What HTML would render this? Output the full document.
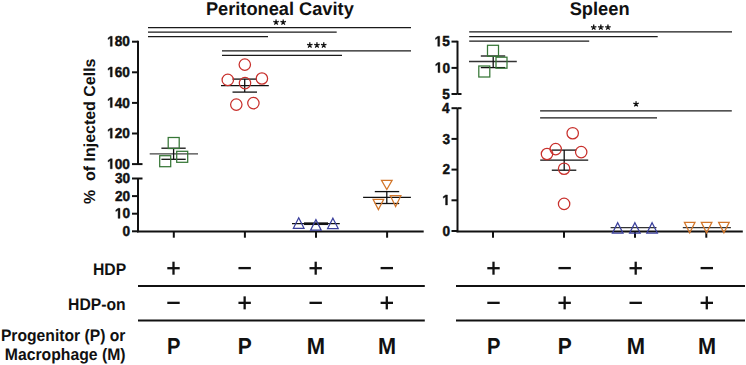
<!DOCTYPE html><html><head><meta charset="utf-8"><style>html,body{margin:0;padding:0;background:#fff;width:746px;height:365px;overflow:hidden;}svg{display:block;}text{font-family:"Liberation Sans",sans-serif;fill:#111;text-rendering:geometricPrecision;}</style></head><body>
<svg width="746" height="365" viewBox="0 0 746 365">
<text x="205.92" y="14.70" font-size="18.4" font-weight="bold" textLength="147.87" lengthAdjust="spacingAndGlyphs" xml:space="preserve" >Peritoneal Cavity</text>
<text x="569.65" y="14.70" font-size="18.4" font-weight="bold" textLength="59.92" lengthAdjust="spacingAndGlyphs" xml:space="preserve" >Spleen</text>
<line x1="138" y1="40.8" x2="138" y2="164.1" stroke="#111" stroke-width="2.0"/>
<line x1="138" y1="178.5" x2="138" y2="232.3" stroke="#111" stroke-width="2.0"/>
<line x1="132" y1="41.7" x2="138" y2="41.7" stroke="#111" stroke-width="2.0"/>
<path transform="translate(107.15,46.35) scale(0.00666,-0.00708)" d="M478 0L478 1170L140 959L140 1180L493 1409L759 1409L759 0Z" fill="#111" stroke="#111" stroke-width="63.6"/>
<text x="107.15" y="46.35" font-size="14.5" font-weight="bold" textLength="22.74" lengthAdjust="spacingAndGlyphs" xml:space="preserve" stroke="#111" stroke-width="0.45" > 80</text>
<line x1="132" y1="72.3" x2="138" y2="72.3" stroke="#111" stroke-width="2.0"/>
<path transform="translate(107.15,76.95) scale(0.00666,-0.00708)" d="M478 0L478 1170L140 959L140 1180L493 1409L759 1409L759 0Z" fill="#111" stroke="#111" stroke-width="63.6"/>
<text x="107.15" y="76.95" font-size="14.5" font-weight="bold" textLength="22.74" lengthAdjust="spacingAndGlyphs" xml:space="preserve" stroke="#111" stroke-width="0.45" > 60</text>
<line x1="132" y1="102.9" x2="138" y2="102.9" stroke="#111" stroke-width="2.0"/>
<path transform="translate(107.15,107.55) scale(0.00666,-0.00708)" d="M478 0L478 1170L140 959L140 1180L493 1409L759 1409L759 0Z" fill="#111" stroke="#111" stroke-width="63.6"/>
<text x="107.15" y="107.55" font-size="14.5" font-weight="bold" textLength="22.74" lengthAdjust="spacingAndGlyphs" xml:space="preserve" stroke="#111" stroke-width="0.45" > 40</text>
<line x1="132" y1="133.5" x2="138" y2="133.5" stroke="#111" stroke-width="2.0"/>
<path transform="translate(107.15,138.15) scale(0.00666,-0.00708)" d="M478 0L478 1170L140 959L140 1180L493 1409L759 1409L759 0Z" fill="#111" stroke="#111" stroke-width="63.6"/>
<text x="107.15" y="138.15" font-size="14.5" font-weight="bold" textLength="22.74" lengthAdjust="spacingAndGlyphs" xml:space="preserve" stroke="#111" stroke-width="0.45" > 20</text>
<line x1="132" y1="164.1" x2="138" y2="164.1" stroke="#111" stroke-width="2.0"/>
<path transform="translate(107.15,168.75) scale(0.00666,-0.00708)" d="M478 0L478 1170L140 959L140 1180L493 1409L759 1409L759 0Z" fill="#111" stroke="#111" stroke-width="63.6"/>
<text x="107.15" y="168.75" font-size="14.5" font-weight="bold" textLength="22.74" lengthAdjust="spacingAndGlyphs" xml:space="preserve" stroke="#111" stroke-width="0.45" > 00</text>
<line x1="138" y1="164.1" x2="142.5" y2="164.1" stroke="#111" stroke-width="2.0"/>
<line x1="132" y1="178.5" x2="138" y2="178.5" stroke="#111" stroke-width="2.0"/>
<text x="114.92" y="183.15" font-size="14.5" font-weight="bold" textLength="15.16" lengthAdjust="spacingAndGlyphs" xml:space="preserve" stroke="#111" stroke-width="0.45" >30</text>
<line x1="132" y1="196.1" x2="138" y2="196.1" stroke="#111" stroke-width="2.0"/>
<text x="114.92" y="200.75" font-size="14.5" font-weight="bold" textLength="15.16" lengthAdjust="spacingAndGlyphs" xml:space="preserve" stroke="#111" stroke-width="0.45" >20</text>
<line x1="132" y1="213.7" x2="138" y2="213.7" stroke="#111" stroke-width="2.0"/>
<path transform="translate(114.92,218.35) scale(0.00666,-0.00708)" d="M478 0L478 1170L140 959L140 1180L493 1409L759 1409L759 0Z" fill="#111" stroke="#111" stroke-width="63.6"/>
<text x="114.92" y="218.35" font-size="14.5" font-weight="bold" textLength="15.16" lengthAdjust="spacingAndGlyphs" xml:space="preserve" stroke="#111" stroke-width="0.45" > 0</text>
<line x1="132" y1="231.3" x2="138" y2="231.3" stroke="#111" stroke-width="2.0"/>
<text x="122.48" y="235.95" font-size="14.5" font-weight="bold" textLength="7.58" lengthAdjust="spacingAndGlyphs" xml:space="preserve" stroke="#111" stroke-width="0.45" >0</text>
<line x1="138" y1="178.5" x2="142.5" y2="178.5" stroke="#111" stroke-width="2.0"/>
<line x1="137" y1="231.5" x2="423.7" y2="231.5" stroke="#111" stroke-width="2.0"/>
<line x1="173.8" y1="231.3" x2="173.8" y2="237.7" stroke="#111" stroke-width="2.0"/>
<line x1="244.9" y1="231.3" x2="244.9" y2="237.7" stroke="#111" stroke-width="2.0"/>
<line x1="316.0" y1="231.3" x2="316.0" y2="237.7" stroke="#111" stroke-width="2.0"/>
<line x1="387.1" y1="231.3" x2="387.1" y2="237.7" stroke="#111" stroke-width="2.0"/>
<text x="-204.10" y="0.00" font-size="16" font-weight="bold" textLength="145.59" lengthAdjust="spacingAndGlyphs" xml:space="preserve" transform="translate(95.3,0) rotate(-90)">%  of Injected Cells</text>
<line x1="457.5" y1="40.8" x2="457.5" y2="94" stroke="#111" stroke-width="2.0"/>
<line x1="457.5" y1="108.2" x2="457.5" y2="232.2" stroke="#111" stroke-width="2.0"/>
<line x1="451.5" y1="41.6" x2="457.5" y2="41.6" stroke="#111" stroke-width="2.0"/>
<path transform="translate(434.61,46.25) scale(0.00666,-0.00708)" d="M478 0L478 1170L140 959L140 1180L493 1409L759 1409L759 0Z" fill="#111" stroke="#111" stroke-width="63.6"/>
<text x="434.61" y="46.25" font-size="14.5" font-weight="bold" textLength="15.16" lengthAdjust="spacingAndGlyphs" xml:space="preserve" stroke="#111" stroke-width="0.45" > 5</text>
<line x1="451.5" y1="67.9" x2="457.5" y2="67.9" stroke="#111" stroke-width="2.0"/>
<path transform="translate(434.82,72.55) scale(0.00666,-0.00708)" d="M478 0L478 1170L140 959L140 1180L493 1409L759 1409L759 0Z" fill="#111" stroke="#111" stroke-width="63.6"/>
<text x="434.82" y="72.55" font-size="14.5" font-weight="bold" textLength="15.16" lengthAdjust="spacingAndGlyphs" xml:space="preserve" stroke="#111" stroke-width="0.45" > 0</text>
<line x1="451.5" y1="94.0" x2="457.5" y2="94.0" stroke="#111" stroke-width="2.0"/>
<text x="442.18" y="98.65" font-size="14.5" font-weight="bold" textLength="7.58" lengthAdjust="spacingAndGlyphs" xml:space="preserve" stroke="#111" stroke-width="0.45" >5</text>
<line x1="457.5" y1="94" x2="461.5" y2="94" stroke="#111" stroke-width="2.0"/>
<line x1="451.5" y1="108.2" x2="457.5" y2="108.2" stroke="#111" stroke-width="2.0"/>
<text x="442.10" y="112.85" font-size="14.5" font-weight="bold" textLength="7.58" lengthAdjust="spacingAndGlyphs" xml:space="preserve" stroke="#111" stroke-width="0.45" >4</text>
<line x1="451.5" y1="138.9" x2="457.5" y2="138.9" stroke="#111" stroke-width="2.0"/>
<text x="442.51" y="143.55" font-size="14.5" font-weight="bold" textLength="7.58" lengthAdjust="spacingAndGlyphs" xml:space="preserve" stroke="#111" stroke-width="0.45" >3</text>
<line x1="451.5" y1="169.6" x2="457.5" y2="169.6" stroke="#111" stroke-width="2.0"/>
<text x="442.58" y="174.25" font-size="14.5" font-weight="bold" textLength="7.58" lengthAdjust="spacingAndGlyphs" xml:space="preserve" stroke="#111" stroke-width="0.45" >2</text>
<line x1="451.5" y1="200.3" x2="457.5" y2="200.3" stroke="#111" stroke-width="2.0"/>
<path transform="translate(442.38,204.95) scale(0.00666,-0.00708)" d="M478 0L478 1170L140 959L140 1180L493 1409L759 1409L759 0Z" fill="#111" stroke="#111" stroke-width="63.6"/>
<text x="442.38" y="204.95" font-size="14.5" font-weight="bold" textLength="7.58" lengthAdjust="spacingAndGlyphs" xml:space="preserve" stroke="#111" stroke-width="0.45" > </text>
<line x1="451.5" y1="231.0" x2="457.5" y2="231.0" stroke="#111" stroke-width="2.0"/>
<text x="442.58" y="235.65" font-size="14.5" font-weight="bold" textLength="7.58" lengthAdjust="spacingAndGlyphs" xml:space="preserve" stroke="#111" stroke-width="0.45" >0</text>
<line x1="457.5" y1="108.2" x2="461.5" y2="108.2" stroke="#111" stroke-width="2.0"/>
<line x1="456.5" y1="231.5" x2="742.8" y2="231.5" stroke="#111" stroke-width="2.0"/>
<line x1="493.0" y1="231.2" x2="493.0" y2="237.7" stroke="#111" stroke-width="2.0"/>
<line x1="564.0" y1="231.2" x2="564.0" y2="237.7" stroke="#111" stroke-width="2.0"/>
<line x1="635.0" y1="231.2" x2="635.0" y2="237.7" stroke="#111" stroke-width="2.0"/>
<line x1="706.3" y1="231.2" x2="706.3" y2="237.7" stroke="#111" stroke-width="2.0"/>
<line x1="148" y1="27.5" x2="411" y2="27.5" stroke="#1a1a1a" stroke-width="1.25"/>
<line x1="148" y1="32" x2="336.7" y2="32" stroke="#1a1a1a" stroke-width="1.25"/>
<line x1="148" y1="36.5" x2="268" y2="36.5" stroke="#1a1a1a" stroke-width="1.25"/>
<line x1="222" y1="50.8" x2="411" y2="50.8" stroke="#1a1a1a" stroke-width="1.25"/>
<line x1="222" y1="55.3" x2="342" y2="55.3" stroke="#1a1a1a" stroke-width="1.25"/>
<line x1="469.2" y1="31.8" x2="732" y2="31.8" stroke="#1a1a1a" stroke-width="1.25"/>
<line x1="469.2" y1="36.5" x2="657.7" y2="36.5" stroke="#1a1a1a" stroke-width="1.25"/>
<line x1="469.2" y1="41" x2="589.2" y2="41" stroke="#1a1a1a" stroke-width="1.25"/>
<line x1="540.1" y1="110.9" x2="731.8" y2="110.9" stroke="#1a1a1a" stroke-width="1.25"/>
<line x1="540.1" y1="117.8" x2="657" y2="117.8" stroke="#1a1a1a" stroke-width="1.25"/>
<path d="M276.05 22.30L276.05 19.45M276.05 22.30L278.76 21.42M276.05 22.30L277.73 24.61M276.05 22.30L274.37 24.61M276.05 22.30L273.34 21.42" stroke="#111" stroke-width="1.3" stroke-linecap="butt" fill="none"/>
<path d="M283.20 22.30L283.20 19.45M283.20 22.30L285.91 21.42M283.20 22.30L284.88 24.61M283.20 22.30L281.52 24.61M283.20 22.30L280.49 21.42" stroke="#111" stroke-width="1.3" stroke-linecap="butt" fill="none"/>
<path d="M309.80 45.20L309.80 42.35M309.80 45.20L312.51 44.32M309.80 45.20L311.48 47.51M309.80 45.20L308.12 47.51M309.80 45.20L307.09 44.32" stroke="#111" stroke-width="1.3" stroke-linecap="butt" fill="none"/>
<path d="M316.95 45.20L316.95 42.35M316.95 45.20L319.66 44.32M316.95 45.20L318.63 47.51M316.95 45.20L315.27 47.51M316.95 45.20L314.24 44.32" stroke="#111" stroke-width="1.3" stroke-linecap="butt" fill="none"/>
<path d="M323.75 45.20L323.75 42.35M323.75 45.20L326.46 44.32M323.75 45.20L325.43 47.51M323.75 45.20L322.07 47.51M323.75 45.20L321.04 44.32" stroke="#111" stroke-width="1.3" stroke-linecap="butt" fill="none"/>
<path d="M593.70 27.40L593.70 24.55M593.70 27.40L596.41 26.52M593.70 27.40L595.38 29.71M593.70 27.40L592.02 29.71M593.70 27.40L590.99 26.52" stroke="#111" stroke-width="1.3" stroke-linecap="butt" fill="none"/>
<path d="M600.85 27.40L600.85 24.55M600.85 27.40L603.56 26.52M600.85 27.40L602.53 29.71M600.85 27.40L599.17 29.71M600.85 27.40L598.14 26.52" stroke="#111" stroke-width="1.3" stroke-linecap="butt" fill="none"/>
<path d="M607.95 27.40L607.95 24.55M607.95 27.40L610.66 26.52M607.95 27.40L609.63 29.71M607.95 27.40L606.27 29.71M607.95 27.40L605.24 26.52" stroke="#111" stroke-width="1.3" stroke-linecap="butt" fill="none"/>
<path d="M636.05 104.10L636.05 101.25M636.05 104.10L638.76 103.22M636.05 104.10L637.73 106.41M636.05 104.10L634.37 106.41M636.05 104.10L633.34 103.22" stroke="#111" stroke-width="1.3" stroke-linecap="butt" fill="none"/>
<line x1="149.7" y1="153.8" x2="198" y2="153.8" stroke="#444" stroke-width="1.3"/>
<line x1="161.4" y1="148.2" x2="185.7" y2="148.2" stroke="#111" stroke-width="1.3"/>
<line x1="161.4" y1="159.3" x2="185.7" y2="159.3" stroke="#111" stroke-width="1.3"/>
<line x1="173.6" y1="148.2" x2="173.6" y2="159.3" stroke="#111" stroke-width="1.3"/>
<rect x="168.20" y="137.50" width="11.0" height="11.0" fill="none" stroke="#367636" stroke-width="1.25"/>
<rect x="176.70" y="151.30" width="11.0" height="11.0" fill="none" stroke="#367636" stroke-width="1.25"/>
<rect x="159.70" y="155.70" width="11.0" height="11.0" fill="none" stroke="#367636" stroke-width="1.25"/>
<line x1="221" y1="85.6" x2="268.8" y2="85.6" stroke="#111" stroke-width="1.3"/>
<line x1="232.5" y1="79.1" x2="257" y2="79.1" stroke="#111" stroke-width="1.3"/>
<line x1="232.5" y1="92.1" x2="257" y2="92.1" stroke="#111" stroke-width="1.3"/>
<line x1="244.7" y1="79.1" x2="244.7" y2="92.1" stroke="#111" stroke-width="1.3"/>
<circle cx="244.8" cy="64.6" r="5.7" fill="none" stroke="#c8302c" stroke-width="1.25"/>
<circle cx="227.8" cy="79.9" r="5.7" fill="none" stroke="#c8302c" stroke-width="1.25"/>
<circle cx="261.9" cy="78.5" r="5.7" fill="none" stroke="#c8302c" stroke-width="1.25"/>
<circle cx="245" cy="83.1" r="5.7" fill="none" stroke="#c8302c" stroke-width="1.25"/>
<circle cx="236.3" cy="104.6" r="5.7" fill="none" stroke="#c8302c" stroke-width="1.25"/>
<circle cx="253.4" cy="103.1" r="5.7" fill="none" stroke="#c8302c" stroke-width="1.25"/>
<line x1="292" y1="223.6" x2="339.8" y2="223.6" stroke="#111" stroke-width="1.3"/>
<line x1="304" y1="223.0" x2="328" y2="223.0" stroke="#111" stroke-width="1.3"/>
<line x1="304" y1="224.4" x2="328" y2="224.4" stroke="#111" stroke-width="1.3"/>
<path d="M298.70 217.80 L304.00 228.30 L293.40 228.30 Z" fill="none" stroke="#3a3f9c" stroke-width="1.25" stroke-linejoin="miter"/>
<path d="M315.90 219.60 L321.20 230.10 L310.60 230.10 Z" fill="none" stroke="#3a3f9c" stroke-width="1.25" stroke-linejoin="miter"/>
<path d="M332.90 218.20 L338.20 228.50 L327.60 228.50 Z" fill="none" stroke="#3a3f9c" stroke-width="1.25" stroke-linejoin="miter"/>
<line x1="363.1" y1="197.4" x2="410.9" y2="197.4" stroke="#111" stroke-width="1.3"/>
<line x1="374.8" y1="191.6" x2="399.2" y2="191.6" stroke="#111" stroke-width="1.3"/>
<line x1="374.8" y1="203.5" x2="399.2" y2="203.5" stroke="#111" stroke-width="1.3"/>
<line x1="386.8" y1="191.6" x2="386.8" y2="203.5" stroke="#111" stroke-width="1.3"/>
<path d="M381.50 180.40 L392.10 180.40 L386.80 189.60 Z" fill="none" stroke="#d2762a" stroke-width="1.25" stroke-linejoin="miter"/>
<path d="M373.10 199.40 L383.70 199.40 L378.40 209.60 Z" fill="none" stroke="#d2762a" stroke-width="1.25" stroke-linejoin="miter"/>
<path d="M390.30 195.70 L400.90 195.70 L395.60 206.60 Z" fill="none" stroke="#d2762a" stroke-width="1.25" stroke-linejoin="miter"/>
<line x1="469" y1="61.5" x2="516.8" y2="61.5" stroke="#333" stroke-width="1.3"/>
<line x1="480.8" y1="56" x2="505.2" y2="56" stroke="#111" stroke-width="1.3"/>
<line x1="480.8" y1="67.6" x2="505.2" y2="67.6" stroke="#111" stroke-width="1.3"/>
<line x1="493.2" y1="56" x2="493.2" y2="67.6" stroke="#111" stroke-width="1.3"/>
<rect x="487.50" y="45.30" width="11.0" height="11.0" fill="none" stroke="#367636" stroke-width="1.25"/>
<rect x="496.00" y="57.20" width="11.0" height="11.0" fill="none" stroke="#367636" stroke-width="1.25"/>
<rect x="478.80" y="66.00" width="11.0" height="11.0" fill="none" stroke="#367636" stroke-width="1.25"/>
<line x1="540.2" y1="160.1" x2="588.2" y2="160.1" stroke="#111" stroke-width="1.3"/>
<line x1="551.8" y1="150.1" x2="576.3" y2="150.1" stroke="#111" stroke-width="1.3"/>
<line x1="551.8" y1="170.2" x2="576.3" y2="170.2" stroke="#111" stroke-width="1.3"/>
<line x1="564.2" y1="150.1" x2="564.2" y2="170.2" stroke="#111" stroke-width="1.3"/>
<circle cx="572.7" cy="133.2" r="5.7" fill="none" stroke="#c8302c" stroke-width="1.25"/>
<circle cx="555.7" cy="149.1" r="5.7" fill="none" stroke="#c8302c" stroke-width="1.25"/>
<circle cx="547" cy="154" r="5.7" fill="none" stroke="#c8302c" stroke-width="1.25"/>
<circle cx="581.2" cy="152.1" r="5.7" fill="none" stroke="#c8302c" stroke-width="1.25"/>
<circle cx="564.1" cy="168.7" r="5.7" fill="none" stroke="#c8302c" stroke-width="1.25"/>
<circle cx="564.1" cy="203.9" r="5.7" fill="none" stroke="#c8302c" stroke-width="1.25"/>
<line x1="610.6" y1="227.7" x2="656.5" y2="227.7" stroke="#333" stroke-width="1.3"/>
<path d="M617.70 222.70 L623.00 233.20 L612.40 233.20 Z" fill="none" stroke="#3a3f9c" stroke-width="1.25" stroke-linejoin="miter"/>
<path d="M634.90 222.70 L640.20 233.20 L629.60 233.20 Z" fill="none" stroke="#3a3f9c" stroke-width="1.25" stroke-linejoin="miter"/>
<path d="M652.10 222.70 L657.40 233.20 L646.80 233.20 Z" fill="none" stroke="#3a3f9c" stroke-width="1.25" stroke-linejoin="miter"/>
<line x1="682.8" y1="227.7" x2="730.9" y2="227.7" stroke="#333" stroke-width="1.3"/>
<path d="M684.40 222.40 L695.00 222.40 L689.70 232.90 Z" fill="none" stroke="#d2762a" stroke-width="1.25" stroke-linejoin="miter"/>
<path d="M701.30 222.40 L711.90 222.40 L706.60 232.90 Z" fill="none" stroke="#d2762a" stroke-width="1.25" stroke-linejoin="miter"/>
<path d="M718.60 222.40 L729.20 222.40 L723.90 232.90 Z" fill="none" stroke="#d2762a" stroke-width="1.25" stroke-linejoin="miter"/>
<line x1="138" y1="286" x2="424.8" y2="286" stroke="#111" stroke-width="2.0"/>
<line x1="138" y1="320.5" x2="424.8" y2="320.5" stroke="#111" stroke-width="2.0"/>
<line x1="456" y1="286" x2="745" y2="286" stroke="#111" stroke-width="2.0"/>
<line x1="456" y1="320.5" x2="745" y2="320.5" stroke="#111" stroke-width="2.0"/>
<line x1="167.3" y1="268.2" x2="179.7" y2="268.2" stroke="#111" stroke-width="2.3"/>
<line x1="173.5" y1="261.7" x2="173.5" y2="274.7" stroke="#111" stroke-width="2.3"/>
<line x1="167.3" y1="302.85" x2="179.7" y2="302.85" stroke="#111" stroke-width="2.3"/>
<line x1="238.45000000000002" y1="268.1" x2="250.85" y2="268.1" stroke="#111" stroke-width="2.3"/>
<line x1="238.45000000000002" y1="302.85" x2="250.85" y2="302.85" stroke="#111" stroke-width="2.3"/>
<line x1="244.65" y1="296.35" x2="244.65" y2="309.35" stroke="#111" stroke-width="2.3"/>
<line x1="309.5" y1="268.2" x2="321.9" y2="268.2" stroke="#111" stroke-width="2.3"/>
<line x1="315.7" y1="261.7" x2="315.7" y2="274.7" stroke="#111" stroke-width="2.3"/>
<line x1="309.5" y1="302.85" x2="321.9" y2="302.85" stroke="#111" stroke-width="2.3"/>
<line x1="380.6" y1="268.1" x2="393.0" y2="268.1" stroke="#111" stroke-width="2.3"/>
<line x1="380.6" y1="302.85" x2="393.0" y2="302.85" stroke="#111" stroke-width="2.3"/>
<line x1="386.8" y1="296.35" x2="386.8" y2="309.35" stroke="#111" stroke-width="2.3"/>
<line x1="487.3" y1="268.2" x2="499.7" y2="268.2" stroke="#111" stroke-width="2.3"/>
<line x1="493.5" y1="261.7" x2="493.5" y2="274.7" stroke="#111" stroke-width="2.3"/>
<line x1="487.3" y1="302.85" x2="499.7" y2="302.85" stroke="#111" stroke-width="2.3"/>
<line x1="558.4499999999999" y1="268.1" x2="570.85" y2="268.1" stroke="#111" stroke-width="2.3"/>
<line x1="558.4499999999999" y1="302.85" x2="570.85" y2="302.85" stroke="#111" stroke-width="2.3"/>
<line x1="564.65" y1="296.35" x2="564.65" y2="309.35" stroke="#111" stroke-width="2.3"/>
<line x1="629.5" y1="268.2" x2="641.9000000000001" y2="268.2" stroke="#111" stroke-width="2.3"/>
<line x1="635.7" y1="261.7" x2="635.7" y2="274.7" stroke="#111" stroke-width="2.3"/>
<line x1="629.5" y1="302.85" x2="641.9000000000001" y2="302.85" stroke="#111" stroke-width="2.3"/>
<line x1="700.5999999999999" y1="268.1" x2="713.0" y2="268.1" stroke="#111" stroke-width="2.3"/>
<line x1="700.5999999999999" y1="302.85" x2="713.0" y2="302.85" stroke="#111" stroke-width="2.3"/>
<line x1="706.8" y1="296.35" x2="706.8" y2="309.35" stroke="#111" stroke-width="2.3"/>
<text x="166.99" y="354.00" font-size="23.2" font-weight="bold" textLength="13.46" lengthAdjust="spacingAndGlyphs" xml:space="preserve" >P</text>
<text x="237.83" y="354.00" font-size="23.2" font-weight="bold" textLength="14.04" lengthAdjust="spacingAndGlyphs" xml:space="preserve" >P</text>
<text x="306.67" y="354.00" font-size="23.2" font-weight="bold" textLength="18.33" lengthAdjust="spacingAndGlyphs" xml:space="preserve" >M</text>
<text x="377.89" y="354.00" font-size="23.2" font-weight="bold" textLength="18.09" lengthAdjust="spacingAndGlyphs" xml:space="preserve" >M</text>
<text x="486.99" y="354.00" font-size="23.2" font-weight="bold" textLength="13.46" lengthAdjust="spacingAndGlyphs" xml:space="preserve" >P</text>
<text x="557.83" y="354.00" font-size="23.2" font-weight="bold" textLength="14.04" lengthAdjust="spacingAndGlyphs" xml:space="preserve" >P</text>
<text x="626.67" y="354.00" font-size="23.2" font-weight="bold" textLength="18.33" lengthAdjust="spacingAndGlyphs" xml:space="preserve" >M</text>
<text x="697.89" y="354.00" font-size="23.2" font-weight="bold" textLength="18.09" lengthAdjust="spacingAndGlyphs" xml:space="preserve" >M</text>
<text x="92.98" y="275.00" font-size="16.8" font-weight="bold" textLength="33.22" lengthAdjust="spacingAndGlyphs" xml:space="preserve" >HDP</text>
<text x="68.08" y="310.00" font-size="16.8" font-weight="bold" textLength="57.58" lengthAdjust="spacingAndGlyphs" xml:space="preserve" >HDP-on</text>
<text x="0.88" y="341.00" font-size="16.6" font-weight="bold" textLength="124.55" lengthAdjust="spacingAndGlyphs" xml:space="preserve" >Progenitor (P) or</text>
<text x="4.78" y="360.00" font-size="16.6" font-weight="bold" textLength="120.77" lengthAdjust="spacingAndGlyphs" xml:space="preserve" >Macrophage (M)</text>
</svg></body></html>
